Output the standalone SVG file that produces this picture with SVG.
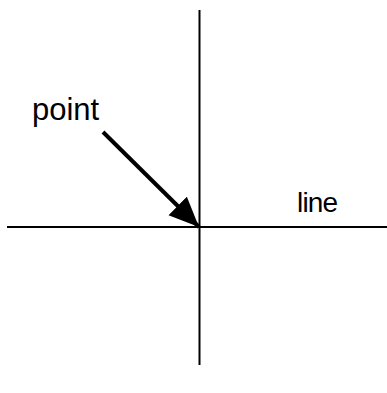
<svg xmlns="http://www.w3.org/2000/svg" width="387" height="393" viewBox="0 0 387 393">
<style>
.ax{stroke:#000;stroke-width:2;fill:none}
.lbl{font-family:"Liberation Sans",Arial,sans-serif;fill:#000}
</style>
<defs>
<marker id="ah" markerUnits="userSpaceOnUse" markerWidth="34" markerHeight="30" refX="30" refY="13" orient="auto" viewBox="0 0 34 30">
<path d="M0,0 L30,13 L0,26 Z" fill="#000"/>
</marker>
</defs>
<rect width="387" height="393" fill="#fff"/>
<g id="connectors">
<line id="hline" class="ax" x1="7" y1="227" x2="387" y2="227"/>
<line id="vline" class="ax" x1="199.5" y1="10" x2="199.5" y2="365"/>
<line id="arrow" x1="103" y1="132" x2="199" y2="227" stroke="#000" stroke-width="4" marker-end="url(#ah)"/>
</g>
<g id="point-label"><text class="lbl" x="32" y="119.5" font-size="31">point</text></g>
<g id="line-label"><text class="lbl" x="297" y="212" font-size="28" letter-spacing="-0.8">line</text></g>
</svg>
